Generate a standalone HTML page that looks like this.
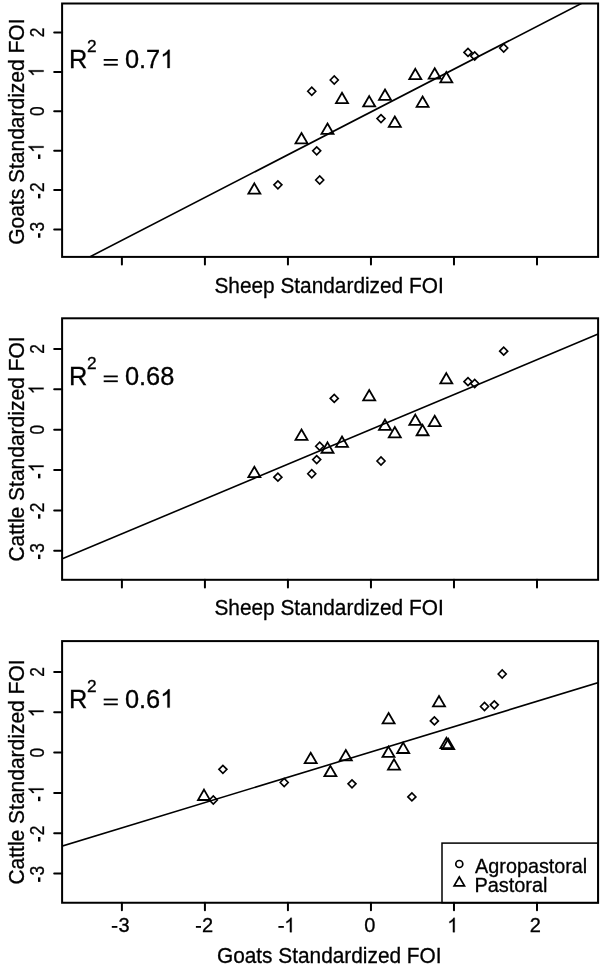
<!DOCTYPE html><html><head><meta charset="utf-8"><style>html,body{margin:0;padding:0;background:#fff}svg{display:block;will-change:transform;filter:blur(0.35px)} text,.g1{stroke:#000;stroke-width:0.3px;paint-order:stroke}</style></head><body><svg width="600" height="965" viewBox="0 0 600 965">
<rect width="600" height="965" fill="#fff"/>
<rect x="62.1" y="3.5" width="536.00" height="253.40" fill="none" stroke="#000" stroke-width="2.0"/>
<line x1="54.2" y1="32.50" x2="62.1" y2="32.50" stroke="#000" stroke-width="2.0" stroke-linecap="round"/>
<line x1="54.2" y1="71.90" x2="62.1" y2="71.90" stroke="#000" stroke-width="2.0" stroke-linecap="round"/>
<line x1="54.2" y1="111.30" x2="62.1" y2="111.30" stroke="#000" stroke-width="2.0" stroke-linecap="round"/>
<line x1="54.2" y1="150.70" x2="62.1" y2="150.70" stroke="#000" stroke-width="2.0" stroke-linecap="round"/>
<line x1="54.2" y1="190.10" x2="62.1" y2="190.10" stroke="#000" stroke-width="2.0" stroke-linecap="round"/>
<line x1="54.2" y1="229.50" x2="62.1" y2="229.50" stroke="#000" stroke-width="2.0" stroke-linecap="round"/>
<line x1="121.90" y1="256.9" x2="121.90" y2="264.50" stroke="#000" stroke-width="2.0" stroke-linecap="round"/>
<line x1="204.92" y1="256.9" x2="204.92" y2="264.50" stroke="#000" stroke-width="2.0" stroke-linecap="round"/>
<line x1="287.94" y1="256.9" x2="287.94" y2="264.50" stroke="#000" stroke-width="2.0" stroke-linecap="round"/>
<line x1="370.96" y1="256.9" x2="370.96" y2="264.50" stroke="#000" stroke-width="2.0" stroke-linecap="round"/>
<line x1="453.98" y1="256.9" x2="453.98" y2="264.50" stroke="#000" stroke-width="2.0" stroke-linecap="round"/>
<line x1="537.00" y1="256.9" x2="537.00" y2="264.50" stroke="#000" stroke-width="2.0" stroke-linecap="round"/>
<clipPath id="c0"><rect x="62.1" y="3.5" width="536.00" height="253.40"/></clipPath>
<line clip-path="url(#c0)" x1="57.1" y1="273.73" x2="603.1" y2="-7.73" stroke="#000" stroke-width="1.6"/>
<g fill="none" stroke="#000" stroke-width="1.65" stroke-linejoin="miter">
<path d="M273.90 184.85L277.90 180.85L281.90 184.85L277.90 188.85Z"/>
<path d="M307.75 91.25L311.75 87.25L315.75 91.25L311.75 95.25Z"/>
<path d="M312.70 150.80L316.70 146.80L320.70 150.80L316.70 154.80Z"/>
<path d="M315.70 180.00L319.70 176.00L323.70 180.00L319.70 184.00Z"/>
<path d="M330.25 80.00L334.25 76.00L338.25 80.00L334.25 84.00Z"/>
<path d="M377.00 118.60L381.00 114.60L385.00 118.60L381.00 122.60Z"/>
<path d="M464.00 52.40L468.00 48.40L472.00 52.40L468.00 56.40Z"/>
<path d="M470.70 56.00L474.70 52.00L478.70 56.00L474.70 60.00Z"/>
<path d="M499.70 48.00L503.70 44.00L507.70 48.00L503.70 52.00Z"/>
</g>
<g fill="none" stroke="#000" stroke-width="1.8" stroke-linejoin="miter">
<path d="M254.35 183.35L260.35 193.70L248.35 193.70Z"/>
<path d="M301.50 133.00L307.50 143.35L295.50 143.35Z"/>
<path d="M327.50 123.50L333.50 133.85L321.50 133.85Z"/>
<path d="M342.00 92.75L348.00 103.10L336.00 103.10Z"/>
<path d="M369.20 96.10L375.20 106.45L363.20 106.45Z"/>
<path d="M385.00 89.50L391.00 99.85L379.00 99.85Z"/>
<path d="M394.80 116.45L400.80 126.80L388.80 126.80Z"/>
<path d="M415.30 68.85L421.30 79.20L409.30 79.20Z"/>
<path d="M422.60 96.45L428.60 106.80L416.60 106.80Z"/>
<path d="M434.70 68.25L440.70 78.60L428.70 78.60Z"/>
<path d="M446.30 72.05L452.30 82.40L440.30 82.40Z"/>
</g>
<g transform="translate(43.6 32.50) rotate(-90) scale(0.83 1)"><text font-family="Liberation Sans, sans-serif" font-size="20.9" x="-5.81" y="0.00">2</text></g>
<g transform="translate(43.6 71.90) rotate(-90) scale(0.83 1)"><path class="g1" vector-effect="non-scaling-stroke" transform="translate(-5.81 0.00) scale(0.01021 -0.01021)" d="M763 0H583V1147Q518 1085 412 1023Q306 961 222 930V1104Q373 1175 486 1276Q599 1377 646 1472H763Z"/></g>
<g transform="translate(43.6 111.30) rotate(-90) scale(0.83 1)"><text font-family="Liberation Sans, sans-serif" font-size="20.9" x="-5.81" y="0.00">0</text></g>
<g transform="translate(43.6 150.70) rotate(-90) scale(0.83 1)"><path class="g1" vector-effect="non-scaling-stroke" transform="translate(-2.33 0.00) scale(0.01021 -0.01021)" d="M763 0H583V1147Q518 1085 412 1023Q306 961 222 930V1104Q373 1175 486 1276Q599 1377 646 1472H763Z"/></g>
<rect x="38.0" y="154.45" width="2.4" height="4.5"/>
<g transform="translate(43.6 190.10) rotate(-90) scale(0.83 1)"><text font-family="Liberation Sans, sans-serif" font-size="20.9" x="-2.33" y="0.00">2</text></g>
<rect x="38.0" y="193.85" width="2.4" height="4.5"/>
<g transform="translate(43.6 229.50) rotate(-90) scale(0.83 1)"><text font-family="Liberation Sans, sans-serif" font-size="20.9" x="-2.33" y="0.00">3</text></g>
<rect x="38.0" y="233.25" width="2.4" height="4.5"/>
<rect x="62.1" y="318.3" width="536.00" height="261.50" fill="none" stroke="#000" stroke-width="2.0"/>
<line x1="54.2" y1="349.00" x2="62.1" y2="349.00" stroke="#000" stroke-width="2.0" stroke-linecap="round"/>
<line x1="54.2" y1="389.36" x2="62.1" y2="389.36" stroke="#000" stroke-width="2.0" stroke-linecap="round"/>
<line x1="54.2" y1="429.72" x2="62.1" y2="429.72" stroke="#000" stroke-width="2.0" stroke-linecap="round"/>
<line x1="54.2" y1="470.08" x2="62.1" y2="470.08" stroke="#000" stroke-width="2.0" stroke-linecap="round"/>
<line x1="54.2" y1="510.44" x2="62.1" y2="510.44" stroke="#000" stroke-width="2.0" stroke-linecap="round"/>
<line x1="54.2" y1="550.80" x2="62.1" y2="550.80" stroke="#000" stroke-width="2.0" stroke-linecap="round"/>
<line x1="121.90" y1="579.8" x2="121.90" y2="587.40" stroke="#000" stroke-width="2.0" stroke-linecap="round"/>
<line x1="204.92" y1="579.8" x2="204.92" y2="587.40" stroke="#000" stroke-width="2.0" stroke-linecap="round"/>
<line x1="287.94" y1="579.8" x2="287.94" y2="587.40" stroke="#000" stroke-width="2.0" stroke-linecap="round"/>
<line x1="370.96" y1="579.8" x2="370.96" y2="587.40" stroke="#000" stroke-width="2.0" stroke-linecap="round"/>
<line x1="453.98" y1="579.8" x2="453.98" y2="587.40" stroke="#000" stroke-width="2.0" stroke-linecap="round"/>
<line x1="537.00" y1="579.8" x2="537.00" y2="587.40" stroke="#000" stroke-width="2.0" stroke-linecap="round"/>
<clipPath id="c1"><rect x="62.1" y="318.3" width="536.00" height="261.50"/></clipPath>
<line clip-path="url(#c1)" x1="57.1" y1="561.03" x2="603.1" y2="331.98" stroke="#000" stroke-width="1.6"/>
<g fill="none" stroke="#000" stroke-width="1.65" stroke-linejoin="miter">
<path d="M273.90 477.20L277.90 473.20L281.90 477.20L277.90 481.20Z"/>
<path d="M307.75 473.75L311.75 469.75L315.75 473.75L311.75 477.75Z"/>
<path d="M312.70 459.60L316.70 455.60L320.70 459.60L316.70 463.60Z"/>
<path d="M315.70 446.25L319.70 442.25L323.70 446.25L319.70 450.25Z"/>
<path d="M330.25 398.40L334.25 394.40L338.25 398.40L334.25 402.40Z"/>
<path d="M377.00 461.00L381.00 457.00L385.00 461.00L381.00 465.00Z"/>
<path d="M464.00 381.70L468.00 377.70L472.00 381.70L468.00 385.70Z"/>
<path d="M470.70 383.50L474.70 379.50L478.70 383.50L474.70 387.50Z"/>
<path d="M499.70 351.20L503.70 347.20L507.70 351.20L503.70 355.20Z"/>
</g>
<g fill="none" stroke="#000" stroke-width="1.8" stroke-linejoin="miter">
<path d="M254.35 466.75L260.35 477.10L248.35 477.10Z"/>
<path d="M301.50 429.50L307.50 439.85L295.50 439.85Z"/>
<path d="M327.50 442.38L333.50 452.73L321.50 452.73Z"/>
<path d="M342.00 436.50L348.00 446.85L336.00 446.85Z"/>
<path d="M369.20 390.05L375.20 400.40L363.20 400.40Z"/>
<path d="M385.00 419.60L391.00 429.95L379.00 429.95Z"/>
<path d="M394.80 426.95L400.80 437.30L388.80 437.30Z"/>
<path d="M415.30 414.60L421.30 424.95L409.30 424.95Z"/>
<path d="M422.60 424.90L428.60 435.25L416.60 435.25Z"/>
<path d="M434.70 415.70L440.70 426.05L428.70 426.05Z"/>
<path d="M446.30 373.10L452.30 383.45L440.30 383.45Z"/>
</g>
<g transform="translate(43.6 349.00) rotate(-90) scale(0.83 1)"><text font-family="Liberation Sans, sans-serif" font-size="20.9" x="-5.81" y="0.00">2</text></g>
<g transform="translate(43.6 389.36) rotate(-90) scale(0.83 1)"><path class="g1" vector-effect="non-scaling-stroke" transform="translate(-5.81 0.00) scale(0.01021 -0.01021)" d="M763 0H583V1147Q518 1085 412 1023Q306 961 222 930V1104Q373 1175 486 1276Q599 1377 646 1472H763Z"/></g>
<g transform="translate(43.6 429.72) rotate(-90) scale(0.83 1)"><text font-family="Liberation Sans, sans-serif" font-size="20.9" x="-5.81" y="0.00">0</text></g>
<g transform="translate(43.6 470.08) rotate(-90) scale(0.83 1)"><path class="g1" vector-effect="non-scaling-stroke" transform="translate(-2.33 0.00) scale(0.01021 -0.01021)" d="M763 0H583V1147Q518 1085 412 1023Q306 961 222 930V1104Q373 1175 486 1276Q599 1377 646 1472H763Z"/></g>
<rect x="38.0" y="473.83" width="2.4" height="4.5"/>
<g transform="translate(43.6 510.44) rotate(-90) scale(0.83 1)"><text font-family="Liberation Sans, sans-serif" font-size="20.9" x="-2.33" y="0.00">2</text></g>
<rect x="38.0" y="514.19" width="2.4" height="4.5"/>
<g transform="translate(43.6 550.80) rotate(-90) scale(0.83 1)"><text font-family="Liberation Sans, sans-serif" font-size="20.9" x="-2.33" y="0.00">3</text></g>
<rect x="38.0" y="554.55" width="2.4" height="4.5"/>
<rect x="62.1" y="641.1" width="536.00" height="261.65" fill="none" stroke="#000" stroke-width="2.0"/>
<line x1="54.2" y1="671.90" x2="62.1" y2="671.90" stroke="#000" stroke-width="2.0" stroke-linecap="round"/>
<line x1="54.2" y1="712.24" x2="62.1" y2="712.24" stroke="#000" stroke-width="2.0" stroke-linecap="round"/>
<line x1="54.2" y1="752.58" x2="62.1" y2="752.58" stroke="#000" stroke-width="2.0" stroke-linecap="round"/>
<line x1="54.2" y1="792.92" x2="62.1" y2="792.92" stroke="#000" stroke-width="2.0" stroke-linecap="round"/>
<line x1="54.2" y1="833.26" x2="62.1" y2="833.26" stroke="#000" stroke-width="2.0" stroke-linecap="round"/>
<line x1="54.2" y1="873.60" x2="62.1" y2="873.60" stroke="#000" stroke-width="2.0" stroke-linecap="round"/>
<line x1="121.90" y1="902.75" x2="121.90" y2="910.35" stroke="#000" stroke-width="2.0" stroke-linecap="round"/>
<line x1="204.92" y1="902.75" x2="204.92" y2="910.35" stroke="#000" stroke-width="2.0" stroke-linecap="round"/>
<line x1="287.94" y1="902.75" x2="287.94" y2="910.35" stroke="#000" stroke-width="2.0" stroke-linecap="round"/>
<line x1="370.96" y1="902.75" x2="370.96" y2="910.35" stroke="#000" stroke-width="2.0" stroke-linecap="round"/>
<line x1="453.98" y1="902.75" x2="453.98" y2="910.35" stroke="#000" stroke-width="2.0" stroke-linecap="round"/>
<line x1="537.00" y1="902.75" x2="537.00" y2="910.35" stroke="#000" stroke-width="2.0" stroke-linecap="round"/>
<clipPath id="c2"><rect x="62.1" y="641.1" width="536.00" height="261.65"/></clipPath>
<line clip-path="url(#c2)" x1="57.1" y1="847.64" x2="603.1" y2="681.16" stroke="#000" stroke-width="1.6"/>
<g fill="none" stroke="#000" stroke-width="1.65" stroke-linejoin="miter">
<path d="M209.30 800.00L213.30 796.00L217.30 800.00L213.30 804.00Z"/>
<path d="M218.90 769.30L222.90 765.30L226.90 769.30L222.90 773.30Z"/>
<path d="M280.20 782.50L284.20 778.50L288.20 782.50L284.20 786.50Z"/>
<path d="M348.00 783.80L352.00 779.80L356.00 783.80L352.00 787.80Z"/>
<path d="M407.90 796.90L411.90 792.90L415.90 796.90L411.90 800.90Z"/>
<path d="M430.40 720.90L434.40 716.90L438.40 720.90L434.40 724.90Z"/>
<path d="M480.50 706.50L484.50 702.50L488.50 706.50L484.50 710.50Z"/>
<path d="M490.30 704.80L494.30 700.80L498.30 704.80L494.30 708.80Z"/>
<path d="M498.20 674.00L502.20 670.00L506.20 674.00L502.20 678.00Z"/>
</g>
<g fill="none" stroke="#000" stroke-width="1.8" stroke-linejoin="miter">
<path d="M204.00 789.65L210.00 800.00L198.00 800.00Z"/>
<path d="M310.70 752.75L316.70 763.10L304.70 763.10Z"/>
<path d="M330.40 765.85L336.40 776.20L324.40 776.20Z"/>
<path d="M345.80 750.00L351.80 760.35L339.80 760.35Z"/>
<path d="M388.60 712.95L394.60 723.30L382.60 723.30Z"/>
<path d="M388.50 746.60L394.50 756.95L382.50 756.95Z"/>
<path d="M394.00 759.20L400.00 769.55L388.00 769.55Z"/>
<path d="M403.20 742.65L409.20 753.00L397.20 753.00Z"/>
<path d="M439.00 696.05L445.00 706.40L433.00 706.40Z"/>
<path d="M446.40 737.75L452.40 748.10L440.40 748.10Z"/>
<path d="M448.20 738.75L454.20 749.10L442.20 749.10Z"/>
</g>
<g transform="translate(43.6 671.90) rotate(-90) scale(0.83 1)"><text font-family="Liberation Sans, sans-serif" font-size="20.9" x="-5.81" y="0.00">2</text></g>
<g transform="translate(43.6 712.24) rotate(-90) scale(0.83 1)"><path class="g1" vector-effect="non-scaling-stroke" transform="translate(-5.81 0.00) scale(0.01021 -0.01021)" d="M763 0H583V1147Q518 1085 412 1023Q306 961 222 930V1104Q373 1175 486 1276Q599 1377 646 1472H763Z"/></g>
<g transform="translate(43.6 752.58) rotate(-90) scale(0.83 1)"><text font-family="Liberation Sans, sans-serif" font-size="20.9" x="-5.81" y="0.00">0</text></g>
<g transform="translate(43.6 792.92) rotate(-90) scale(0.83 1)"><path class="g1" vector-effect="non-scaling-stroke" transform="translate(-2.33 0.00) scale(0.01021 -0.01021)" d="M763 0H583V1147Q518 1085 412 1023Q306 961 222 930V1104Q373 1175 486 1276Q599 1377 646 1472H763Z"/></g>
<rect x="38.0" y="796.67" width="2.4" height="4.5"/>
<g transform="translate(43.6 833.26) rotate(-90) scale(0.83 1)"><text font-family="Liberation Sans, sans-serif" font-size="20.9" x="-2.33" y="0.00">2</text></g>
<rect x="38.0" y="837.01" width="2.4" height="4.5"/>
<g transform="translate(43.6 873.60) rotate(-90) scale(0.83 1)"><text font-family="Liberation Sans, sans-serif" font-size="20.9" x="-2.33" y="0.00">3</text></g>
<rect x="38.0" y="877.35" width="2.4" height="4.5"/>
<text font-family="Liberation Sans, sans-serif" font-size="22.2" text-anchor="middle" transform="translate(24.2 131.65) rotate(-90) scale(0.946 1)">Goats Standardized FOI</text>
<text font-family="Liberation Sans, sans-serif" font-size="22.2" text-anchor="middle" transform="translate(24.2 449.00) rotate(-90) scale(0.946 1)">Cattle Standardized FOI</text>
<text font-family="Liberation Sans, sans-serif" font-size="22.2" text-anchor="middle" transform="translate(24.2 771.98) rotate(-90) scale(0.946 1)">Cattle Standardized FOI</text>
<text font-family="Liberation Sans, sans-serif" font-size="21.8" text-anchor="middle" transform="translate(329.05 292.5) scale(0.956 1)">Sheep Standardized FOI</text>
<text font-family="Liberation Sans, sans-serif" font-size="21.8" text-anchor="middle" transform="translate(329.05 615.3) scale(0.956 1)">Sheep Standardized FOI</text>
<text font-family="Liberation Sans, sans-serif" font-size="21.8" text-anchor="middle" transform="translate(329.25 962.5) scale(0.956 1)">Goats Standardized FOI</text>
<text font-family="Liberation Sans, sans-serif" font-size="20" x="118.54" y="932.20">3</text>
<rect x="111.8" y="926.00" width="5.60" height="1.8"/>
<text font-family="Liberation Sans, sans-serif" font-size="20" x="201.90" y="932.20">2</text>
<rect x="195.9" y="926.00" width="5.10" height="1.8"/>
<path class="g1" vector-effect="non-scaling-stroke" transform="translate(284.23 932.20) scale(0.00977 -0.00977)" d="M763 0H583V1147Q518 1085 412 1023Q306 961 222 930V1104Q373 1175 486 1276Q599 1377 646 1472H763Z"/>
<rect x="278.4" y="926.00" width="5.45" height="1.8"/>
<text font-family="Liberation Sans, sans-serif" font-size="20" x="364.22" y="932.20">0</text>
<path class="g1" vector-effect="non-scaling-stroke" transform="translate(447.23 932.20) scale(0.00977 -0.00977)" d="M763 0H583V1147Q518 1085 412 1023Q306 961 222 930V1104Q373 1175 486 1276Q599 1377 646 1472H763Z"/>
<text font-family="Liberation Sans, sans-serif" font-size="20" x="529.80" y="932.20">2</text>
<text font-family="Liberation Sans, sans-serif" font-size="25.4" x="69" y="68">R</text>
<text font-family="Liberation Sans, sans-serif" font-size="17.3" x="87" y="52.2">2</text>
<rect x="103.7" y="59.00" width="14.1" height="1.8"/><rect x="103.7" y="63.85" width="14.1" height="1.8"/>
<text font-family="Liberation Sans, sans-serif" font-size="25.4" x="124.90" y="68.00">0</text>
<text font-family="Liberation Sans, sans-serif" font-size="25.4" x="139.03" y="68.00">.</text>
<text font-family="Liberation Sans, sans-serif" font-size="25.4" x="146.08" y="68.00">7</text>
<path class="g1" vector-effect="non-scaling-stroke" transform="translate(160.21 68.00) scale(0.01240 -0.01240)" d="M763 0H583V1147Q518 1085 412 1023Q306 961 222 930V1104Q373 1175 486 1276Q599 1377 646 1472H763Z"/>
<text font-family="Liberation Sans, sans-serif" font-size="25.4" x="69" y="384.5">R</text>
<text font-family="Liberation Sans, sans-serif" font-size="17.3" x="87" y="368.7">2</text>
<rect x="103.7" y="375.50" width="14.1" height="1.8"/><rect x="103.7" y="380.35" width="14.1" height="1.8"/>
<text font-family="Liberation Sans, sans-serif" font-size="25.4" x="124.90" y="384.50">0</text>
<text font-family="Liberation Sans, sans-serif" font-size="25.4" x="139.03" y="384.50">.</text>
<text font-family="Liberation Sans, sans-serif" font-size="25.4" x="146.08" y="384.50">6</text>
<text font-family="Liberation Sans, sans-serif" font-size="25.4" x="160.21" y="384.50">8</text>
<text font-family="Liberation Sans, sans-serif" font-size="25.4" x="69" y="707.6">R</text>
<text font-family="Liberation Sans, sans-serif" font-size="17.3" x="87" y="691.8000000000001">2</text>
<rect x="103.7" y="698.60" width="14.1" height="1.8"/><rect x="103.7" y="703.45" width="14.1" height="1.8"/>
<text font-family="Liberation Sans, sans-serif" font-size="25.4" x="124.90" y="707.60">0</text>
<text font-family="Liberation Sans, sans-serif" font-size="25.4" x="139.03" y="707.60">.</text>
<text font-family="Liberation Sans, sans-serif" font-size="25.4" x="146.08" y="707.60">6</text>
<path class="g1" vector-effect="non-scaling-stroke" transform="translate(160.21 707.60) scale(0.01240 -0.01240)" d="M763 0H583V1147Q518 1085 412 1023Q306 961 222 930V1104Q373 1175 486 1276Q599 1377 646 1472H763Z"/>
<rect x="442" y="843.1" width="156.10" height="59.65" fill="none" stroke="#000" stroke-width="1.5"/>
<circle cx="459.3" cy="864" r="3.5" fill="none" stroke="#000" stroke-width="1.7"/>
<path d="M459.3 877.0L464.5 885.8L454.1 885.8Z" fill="none" stroke="#000" stroke-width="1.7"/>
<text font-family="Liberation Sans, sans-serif" font-size="19.8" x="475.1" y="873.2">Agropastoral</text>
<text font-family="Liberation Sans, sans-serif" font-size="19.95" x="474.4" y="892.1">Pastoral</text>
</svg></body></html>
